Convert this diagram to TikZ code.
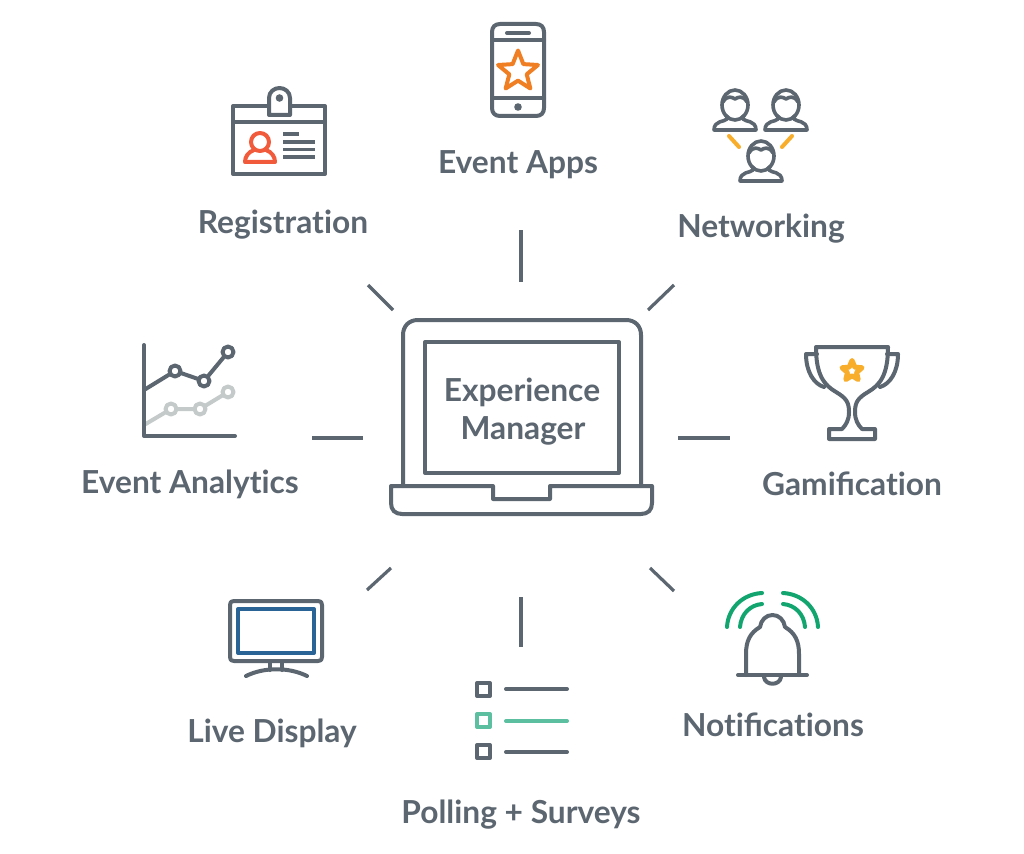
\documentclass[tikz,border=0pt]{standalone}
\usepackage{fontspec}
\setmainfont{Lato}
\usetikzlibrary{shapes.geometric}
\definecolor{slate}{HTML}{5C6670}
\definecolor{slatesoft}{HTML}{C4C9C9}
\definecolor{redorange}{HTML}{F15A3A}
\definecolor{appstar}{HTML}{F07F23}
\definecolor{amber}{HTML}{F9AE2B}
\definecolor{screenblue}{HTML}{2A6496}
\definecolor{mint}{HTML}{5BBFA0}
\definecolor{signal}{HTML}{12A56F}
\newcommand{\noti}{t\kern0pt i}
\tikzset{
  x=1pt,y=-1pt,
  ink/.style={draw=slate,line width=4pt,line cap=round,line join=round},
  tick/.style={draw=slate,line width=3.2pt},
  lbl/.style={text=slate,font=\fontsize{31.7}{36}\selectfont\bfseries,anchor=base,inner sep=0pt},
  netperson/.pic={
    \draw[ink,line width=3.6pt] (-8,11) -- (-8,14) .. controls (-10,17) and (-21,15) .. (-21,25)
      -- (21,25) .. controls (21,15) and (10,17) .. (8,14) -- (8,11);
    \draw[ink,line width=3.6pt] (0,0) ellipse [x radius=13,y radius=15];
    \draw[ink,line width=3.6pt] (-12,-3) .. controls (-8,-10) and (-3,-8) .. (0,-6)
      .. controls (3,-8) and (8,-10) .. (12,-3);
  }
}
\begin{document}
\begin{tikzpicture}
\useasboundingbox[fill=white] (0,0) rectangle (1024,853);

% ---- laptop
\draw[ink] (403,486) -- (403,335) .. controls (403,326) and (409,320) .. (418,320)
  -- (626,320) .. controls (635,320) and (641,326) .. (641,335) -- (641,486);
\draw[ink] (425,342) rectangle (619,473);
\draw[ink] (391,486) -- (493,486) -- (493,499) -- (550,499) -- (550,486) -- (652,486) -- (652,503)
  .. controls (652,510) and (648,514) .. (641,514) -- (402,514)
  .. controls (395,514) and (391,510) .. (391,503) -- cycle;
\node[lbl] (expA) at (522,401) {Experience};
\node[lbl] (expB) at (523,439) {Manager};

% ---- spokes
\coordinate (tA1) at (521,230); \coordinate (tA2) at (521,282);
\coordinate (tB1) at (368,285); \coordinate (tB2) at (393,310);
\coordinate (tC1) at (674,285); \coordinate (tC2) at (648,310);
\coordinate (tD1) at (312,438); \coordinate (tD2) at (363,438);
\coordinate (tE1) at (678,438); \coordinate (tE2) at (730,438);
\coordinate (tF1) at (367,590); \coordinate (tF2) at (391,568);
\coordinate (tG1) at (521,597); \coordinate (tG2) at (521,647);
\coordinate (tH1) at (650,568); \coordinate (tH2) at (674,591);
\foreach \s in {A,B,C,D,E,F,G,H} \draw[tick] (t\s1) -- (t\s2);

% ---- registration
\draw[ink] (233,106) rectangle (325,174);
\draw[ink] (233,122) -- (325,122);
\draw[ink,fill=white] (269,115) -- (269,98) .. controls (269,92) and (274,88) .. (279.5,88)
  .. controls (285,88) and (290,92) .. (290,98) -- (290,115) -- cycle;
\fill[slate] (279.5,98) circle[radius=3.8pt];
\draw[ink,draw=redorange] (260,142) circle[radius=9pt];
\draw[ink,draw=redorange] (254,150) .. controls (248,152) and (245,157) .. (245,162) -- (275,162)
  .. controls (275,157) and (272,152) .. (266,150);
\draw[ink,line cap=butt,line width=3.4pt] (283,134) -- (299,134);
\draw[ink,line cap=butt,line width=3.4pt] (283,142) -- (315,142);
\draw[ink,line cap=butt,line width=3.4pt] (283,149.5) -- (315,149.5);
\draw[ink,line cap=butt,line width=3.4pt] (283,157) -- (315,157);
\node[lbl] (regL) at (283,233) {Registra\noti on};

% ---- event apps
\draw[ink] (500,24) -- (536,24) .. controls (541,24) and (544,27) .. (544,32) -- (544,108)
  .. controls (544,113) and (541,116) .. (536,116) -- (500,116)
  .. controls (495,116) and (492,113) .. (492,108) -- (492,32) .. controls (492,27) and (495,24) .. (500,24) -- cycle;
\draw[ink] (492,40) -- (544,40);
\draw[ink] (492,98) -- (544,98);
\draw[ink] (507,33) -- (529,33);
\fill[slate] (518,107) circle[radius=3.8pt];
\node[star,star points=5,star point ratio=2.3,minimum size=42pt,inner sep=0pt,draw=appstar,line width=4pt,line join=round] (appStar) at (518,71.5) {};
\node[lbl] (appL) at (518,173) {Event Apps};

% ---- networking
\pic (netA) at (735,105) {netperson};
\pic (netB) at (786,105) {netperson};
\pic (netC) at (761,156) {netperson};
\draw[ink,draw=amber] (729,136) -- (739,147);
\draw[ink,draw=amber] (792,136) -- (782,147);
\node[lbl] (netL) at (761,237) {Networking};

% ---- analytics
\draw[ink,draw=slatesoft] (144,425) -- (171,409) -- (200,409) -- (228,392);
\draw[ink] (144,390) -- (175,371) -- (204,381) -- (228,352);
\draw[ink] (144,345) -- (144,436) -- (235,436);
\foreach \p in {(175,371),(204,381),(228,352)} \draw[ink,fill=white] \p circle[radius=5.5pt];
\foreach \p in {(171,409),(200,409),(228,392)} \draw[ink,draw=slatesoft,fill=white] \p circle[radius=5.5pt];
\node[lbl] (anaL) at (190,493) {Event Analy\noti cs};

% ---- gamification
\draw[ink] (816,347) -- (888,347) .. controls (888,375) and (880,385) .. (868,392)
  .. controls (858,398) and (855,402) .. (855,412) .. controls (855,420) and (858,425) .. (862,429)
  -- (875,429) -- (875,439) -- (829,439) -- (829,429) -- (842,429)
  .. controls (846,425) and (849,420) .. (849,412) .. controls (849,402) and (846,398) .. (836,392)
  .. controls (824,385) and (816,375) .. (816,347) -- cycle;
\draw[ink] (817,354) -- (806,354) .. controls (806,372) and (814,384) .. (824,387);
\draw[ink] (887,354) -- (898,354) .. controls (898,372) and (890,384) .. (880,387);
\node[star,star points=5,star point ratio=2.2,minimum size=21pt,inner sep=0pt,draw=amber,line width=5pt,line join=round] (cupStar) at (852,371) {};
\node[lbl] (gamL) at (852,495) {Gamifica\noti on};

% ---- live display
\draw[ink] (234,601) -- (318,601) .. controls (321,601) and (322,602) .. (322,605) -- (322,657)
  .. controls (322,660) and (321,661) .. (318,661) -- (234,661)
  .. controls (231,661) and (230,660) .. (230,657) -- (230,605) .. controls (230,602) and (231,601) .. (234,601) -- cycle;
\draw[ink,draw=screenblue] (238,609) rectangle (314,653);
\draw[ink] (270,661) -- (270,670);
\draw[ink] (282,661) -- (282,670);
\draw[ink] (246,676) .. controls (264,667) and (289,667) .. (307,676);
\node[lbl] (dispL) at (272,742) {Live Display};

% ---- polling
\draw[ink] (477,683) rectangle (490,696);
\draw[ink,draw=mint] (477,714) rectangle (490,727);
\draw[ink] (477,745) rectangle (490,758);
\draw[ink] (506,689) -- (567,689);
\draw[ink,draw=mint] (506,721) -- (567,721);
\draw[ink] (506,752) -- (567,752);
\node[lbl] (pollL) at (521,823) {Polling + Surveys};

% ---- notifications
\draw[ink] (746,675) -- (746,654) .. controls (746,641) and (750,633) .. (760,627)
  .. controls (761,620) and (766,615) .. (772.5,615) .. controls (779,615) and (784,620) .. (785,627)
  .. controls (795,633) and (799,641) .. (799,654) -- (799,675);
\draw[ink] (738,675) -- (807,675);
\draw[ink] (764,677) .. controls (765,686) and (780,686) .. (781,677);
\draw[ink,draw=signal] (762,593) .. controls (743,594) and (728,608) .. (727,627);
\draw[ink,draw=signal] (762,604) .. controls (750,605) and (741,614) .. (740,627);
\draw[ink,draw=signal] (783,593) .. controls (802,594) and (817,608) .. (818,627);
\draw[ink,draw=signal] (783,604) .. controls (795,605) and (804,614) .. (805,627);
\node[lbl] (notL) at (773,736) {No\noti fica\noti ons};
\end{tikzpicture}
\end{document}
